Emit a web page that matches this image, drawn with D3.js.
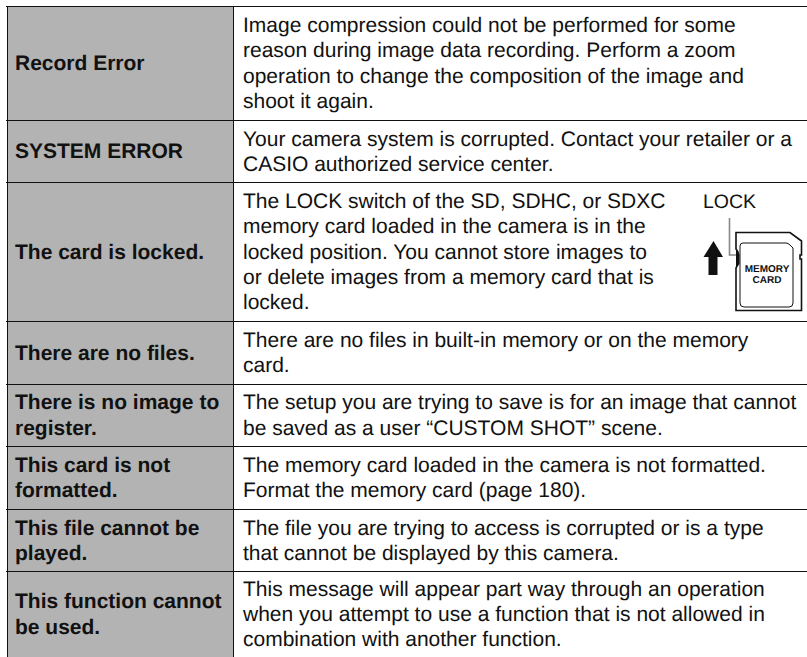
<!DOCTYPE html>
<html>
<head>
<meta charset="utf-8">
<script src="https://cdn.jsdelivr.net/npm/d3@7"></script>
<style>
  html, body { margin: 0; padding: 0; background: #fff; }
  svg { display: block; }
  text { font-family: "Liberation Sans", Arial, sans-serif; fill: #111; text-rendering: geometricPrecision; }
</style>
</head>
<body>
<svg id="chart"></svg>
<script>
const errorNames = [
  ["Record Error"],
  ["SYSTEM ERROR"],
  ["The card is locked."],
  ["There are no files."],
  ["There is no image to", "register."],
  ["This card is not", "formatted."],
  ["This file cannot be", "played."],
  ["This function cannot", "be used."]
];
const errorTexts = [
  ["Image compression could not be performed for some", "reason during image data recording. Perform a zoom", "operation to change the composition of the image and", "shoot it again."],
  ["Your camera system is corrupted. Contact your retailer or a", "CASIO authorized service center."],
  ["The LOCK switch of the SD, SDHC, or SDXC", "memory card loaded in the camera is in the", "locked position. You cannot store images to", "or delete images from a memory card that is", "locked."],
  ["There are no files in built-in memory or on the memory", "card."],
  ["The setup you are trying to save is for an image that cannot", "be saved as a user “CUSTOM SHOT” scene."],
  ["The memory card loaded in the camera is not formatted.", "Format the memory card (page 180)."],
  ["The file you are trying to access is corrupted or is a type", "that cannot be displayed by this camera."],
  ["This message will appear part way through an operation", "when you attempt to use a function that is not allowed in", "combination with another function."]
];
// row heights
const rowHeights = [114, 62, 139, 62.5, 62.5, 62.5, 62.5, 85];

const w = 807, h = 657;
const lineH = 25.2;
const svg = d3.select('#chart').attr('width', w).attr('height', h);

const edges = d3.cumsum(rowHeights);
const y = d3.scaleLinear().domain([0, d3.sum(rowHeights)]).range([6.5, 657]);
const x = d3.scaleLinear().domain([0, 1]).range([7.5, 233.5]);
const rows = errorNames.map((name, i) => ({
  name, text: errorTexts[i],
  top: y(i ? edges[i - 1] : 0),
  bottom: y(edges[i])
}));

// grey name column
svg.selectAll('rect.name').data(rows).join('rect')
  .attr('class', 'name')
  .attr('x', x(0)).attr('width', x(1) - x(0))
  .attr('y', d => d.top).attr('height', d => d.bottom - d.top)
  .attr('fill', '#b3b3b3');

// rules
svg.selectAll('line.rule').data(rows).join('line')
  .attr('class', 'rule')
  .attr('x1', 6).attr('x2', w)
  .attr('y1', d => Math.round(d.top - 0.5) + 0.5).attr('y2', d => Math.round(d.top - 0.5) + 0.5)
  .attr('stroke', '#111').attr('stroke-width', 1);
svg.selectAll('line.vert').data([x(0), x(1)]).join('line')
  .attr('class', 'vert')
  .attr('x1', d => d).attr('x2', d => d)
  .attr('y1', y(0)).attr('y2', h)
  .attr('stroke', '#111').attr('stroke-width', 1);

function block(sel, key, tx, weight) {
  sel.selectAll('text.' + key).data(rows).join('text')
    .attr('class', key)
    .attr('font-size', 21)
    .attr('font-weight', weight)
    .each(function (d) {
      const mid = (d.top + d.bottom) / 2;
      const lines = d[key];
      const start = mid - (lines.length - 1) * lineH / 2 + 6.5;
      d3.select(this).selectAll('tspan').data(lines).join('tspan')
        .attr('x', tx)
        .attr('y', (l, j) => start + j * lineH)
        .text(l => l);
    });
}
block(svg, 'name', 15, 'bold');
block(svg, 'text', 243, 'normal');

// memory card picture next to the locked-card row
const icon = svg.append('g');
icon.append('text').attr('x', 703).attr('y', 208).attr('font-size', 19.5).text('LOCK');
icon.append('path').attr('d', 'M729.5 218V255H736').attr('fill', 'none').attr('stroke', '#888').attr('stroke-width', 1.6);
icon.append('path').attr('d', 'M713.5 241L723 257H717.5V275H708.5V257H703.5Z').attr('fill', '#111');
icon.append('path')
  .attr('d', 'M736 232.5H790L801.5 241V255H800V259H801.5V310.5H736V268L738 264V252L736 249Z')
  .attr('fill', '#fff').attr('stroke', '#111').attr('stroke-width', 1.6);
icon.append('path')
  .attr('d', 'M743 243H786Q788 243 790 245L793 248V303Q793 307 789 307H744Q740 307 740 303V246Q740 243 743 243Z')
  .attr('fill', 'none').attr('stroke', '#111').attr('stroke-width', 1);
icon.append('path').attr('d', 'M736 250L739.5 254V264L736 268Z').attr('fill', '#111');
icon.selectAll('text.card').data(['MEMORY', 'CARD']).join('text')
  .attr('class', 'card')
  .attr('x', 767).attr('y', (d, i) => 272 + i * 10.5)
  .attr('text-anchor', 'middle')
  .attr('font-size', 10).attr('font-weight', 'bold')
  .text(d => d);
</script>
</body>
</html>
